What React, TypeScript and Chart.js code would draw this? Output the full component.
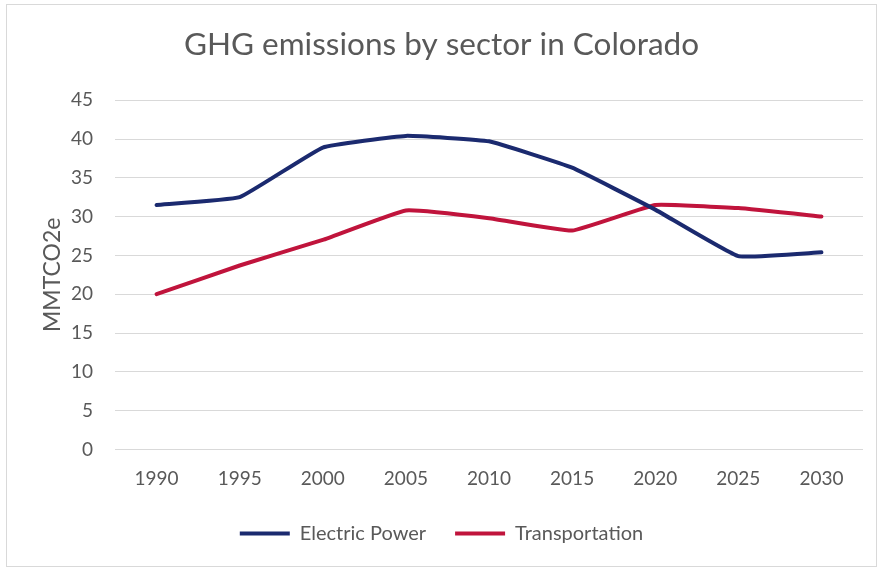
import React, { useEffect, useRef } from "react";
import { Chart, registerables } from "chart.js";

Chart.register(...registerables);

const years = ["1990", "1995", "2000", "2005", "2010", "2015", "2020", "2025", "2030"];
const electricPower = [31.5, 32.5, 38.9, 40.4, 39.7, 36.3, 30.9, 24.9, 25.4];
const transportation = [20.0, 23.7, 27.0, 30.8, 29.8, 28.2, 31.5, 31.1, 30.0];
const titleText = "GHG emissions by sector in Colorado";
const yTitle = "MMTCO2e";

export default function App() {
  const ref = useRef<HTMLCanvasElement>(null);
  useEffect(() => {
    if (!ref.current) return;
    const font = "Lato, 'Open Sans', sans-serif";
    const chart = new Chart(ref.current, {
      type: "line",
      data: {
        labels: years,
        datasets: [
          {
            label: "Electric Power",
            data: electricPower,
            borderColor: "#1B2A6F",
            backgroundColor: "#1B2A6F",
            borderWidth: 4,
            pointRadius: 0,
            tension: 0.1,
            pointStyle: "line",
            borderCapStyle: "round",
          },
          {
            label: "Transportation",
            data: transportation,
            borderColor: "#C0143C",
            backgroundColor: "#C0143C",
            borderWidth: 4,
            pointRadius: 0,
            tension: 0.1,
            pointStyle: "line",
            borderCapStyle: "round",
          },
        ],
      },
      options: {
        animation: false,
        responsive: false,
        layout: { padding: { left: 20, right: 18, top: 20, bottom: 15.6 } },
        plugins: {
          title: {
            display: true,
            text: titleText,
            color: "#595959",
            font: { family: font, size: 31.5, weight: "normal" },
            padding: { top: 6, bottom: 36.4 },
          },
          legend: {
            position: "bottom",
            labels: {
              usePointStyle: true,
              pointStyleWidth: 50,
              color: "#595959",
              font: { family: font, size: 20 },
              padding: 29,
            },
          },
          tooltip: { enabled: false },
        },
        scales: {
          x: {
            offset: true,
            grid: { display: false, drawTicks: false },
            border: { display: false },
            ticks: { color: "#595959", font: { family: font, size: 19 }, padding: 17.6 },
            afterFit: (scale: any) => {
              scale.height = 45;
            },
          },
          y: {
            min: 0,
            max: 45,
            ticks: { stepSize: 5, color: "#595959", font: { family: font, size: 19 }, padding: 22 },
            grid: { color: "#d9d9d9", lineWidth: 1, drawTicks: false },
            border: { display: false },
            title: {
              display: true,
              text: yTitle,
              color: "#595959",
              font: { family: font, size: 23 },
              padding: { top: 19.2, bottom: 0 },
            },
            afterFit: (scale: any) => {
              scale.width = 95;
            },
          },
        },
      },
    });
    return () => chart.destroy();
  }, []);
  return (
    <div style={{ position: "fixed", left: 0, top: 0, width: 881, height: 569, background: "#fff" }}>
      <div
        style={{
          position: "absolute",
          left: 6,
          top: 4,
          width: 869,
          height: 561,
          border: "1px solid #d9d9d9",
        }}
      />
      <canvas ref={ref} width={881} height={569} style={{ position: "absolute", left: 0, top: 0 }} />
    </div>
  );
}
